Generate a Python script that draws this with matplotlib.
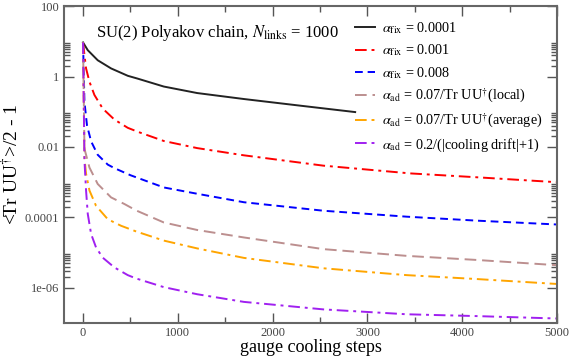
import matplotlib
matplotlib.use("Agg")
import matplotlib.pyplot as plt
from matplotlib.ticker import LogLocator, FuncFormatter, MultipleLocator

plt.rcParams['font.family'] = ['Liberation Serif', 'DejaVu Serif']
plt.rcParams['mathtext.fontset'] = 'stix'

# values (steps, <Tr UU^dag>/2 - 1)
steps_black = [0, 50, 155, 296, 472, 578, 852, 1204, 1697, 2300, 2870]
vals_black = [9.3, 5.6, 2.9, 1.7, 1.05, 0.87, 0.52, 0.34, 0.23, 0.148, 0.098]

steps_red = [0, 15, 32, 68, 120, 208, 331, 472, 578, 852, 1204, 1697, 2535, 3450, 4155, 5000]
vals_red = [9.3, 4.1, 1.7, 0.71, 0.30, 0.123, 0.060, 0.035, 0.027, 0.0148, 0.0093, 0.0058,
            0.00295, 0.00178, 0.00138, 0.00100]

steps_blue = [0, 15, 42, 85, 155, 261, 331, 500, 852, 1204, 1697, 2535, 3415, 4155, 5000]
vals_blue = [9.3, 0.19, 0.041, 0.0145, 0.0060, 0.00316, 0.00251, 0.00158, 0.00071, 0.00047,
             0.00027, 0.000155, 0.000105, 8.1e-5, 6.3e-5]

steps_brown = [0, 15, 68, 155, 296, 437, 560, 852, 1204, 1697, 2535, 3415, 4155, 5000]
vals_brown = [9.3, 0.0089, 0.0026, 0.00089, 0.00037, 0.00024, 0.000158, 7.2e-5, 4.4e-5, 2.7e-5,
              1.26e-5, 8.1e-6, 6.2e-6, 4.4e-6]

steps_orange = [0, 15, 32, 68, 137, 261, 401, 560, 852, 1204, 1697, 2535, 3415, 4155, 5000]
vals_orange = [9.3, 0.005, 0.00174, 0.00058, 0.000214, 8.9e-5, 5.8e-5, 4.0e-5, 2.2e-5, 1.32e-5,
               7.1e-6, 3.6e-6, 2.3e-6, 1.78e-6, 1.29e-6]

steps_purple = [0, 15, 32, 50, 85, 137, 208, 331, 472, 560, 852, 1204, 1697, 2535, 3415, 4155, 5000]
vals_purple = [9.3, 0.0042, 0.00058, 0.000126, 3.4e-5, 1.41e-5, 7.2e-6, 3.8e-6, 2.3e-6, 1.85e-6,
               1.05e-6, 6.6e-7, 4.0e-7, 2.45e-7, 1.78e-7, 1.58e-7, 1.35e-7]

labels = [r'$\alpha_{\rm fix}$ = 0.0001',
          r'$\alpha_{\rm fix}$ = 0.001',
          r'$\alpha_{\rm fix}$ = 0.008',
          r'$\alpha_{\rm ad}$ = 0.07/Tr UU$^{\dagger}$(local)',
          r'$\alpha_{\rm ad}$ = 0.07/Tr UU$^{\dagger}$(average)',
          r'$\alpha_{\rm ad}$ = 0.2/(|cooling drift|+1)']

ytick_text = {100: '100', 1: '1', 0.01: '0.01', 1e-4: '0.0001', 1e-6: '1e-06'}

fig = plt.figure(figsize=(5.72, 3.59), dpi=100)
ax = fig.add_axes([0.112, 0.100, 0.862, 0.883])

lw = 1.4
dashdot = (6, 2.5, 1.5, 2.5)
ax.plot(steps_black, vals_black, color='#222222', lw=lw, label=labels[0])
ax.plot(steps_red, vals_red, color='red', lw=lw, dashes=dashdot, label=labels[1])
ax.plot(steps_blue, vals_blue, color='blue', lw=lw, dashes=(4, 2.5), label=labels[2])
ax.plot(steps_brown, vals_brown, color='#bc8f8f', lw=lw, dashes=(6, 3), label=labels[3])
ax.plot(steps_orange, vals_orange, color='orange', lw=lw, dashes=dashdot, label=labels[4])
ax.plot(steps_purple, vals_purple, color='#a020f0', lw=lw, dashes=dashdot, label=labels[5])

ax.set_yscale('log')
ax.set_xlim(-200, 5000)
ax.set_ylim(1e-7, 100)

ax.yaxis.set_major_locator(LogLocator(base=100, numticks=10))
ax.yaxis.set_minor_locator(LogLocator(base=100, subs=[2, 3, 4, 5, 6, 7, 8, 9], numticks=10))
ax.yaxis.set_major_formatter(FuncFormatter(lambda v, p: ytick_text.get(round(v, 10), '')))
ax.xaxis.set_major_locator(MultipleLocator(1000))
ax.xaxis.set_minor_locator(MultipleLocator(500))

ax.tick_params(which='both', direction='in', top=True, right=True, colors='#555555',
               labelsize=9, labelcolor='#444444')
ax.tick_params(which='major', length=7, width=1)
ax.tick_params(which='minor', length=4, width=1)
ax.tick_params(axis='x', pad=3)
for s in ax.spines.values():
    s.set_color('#666666')
    s.set_linewidth(1.5)

ax.set_xlabel('gauge cooling steps', fontsize=13, labelpad=0)
ax.set_ylabel(r'<Tr UU$^{\dagger}$>/2 - 1', fontsize=14, labelpad=2)

ax.text(0.065, 0.915, r'SU(2) Polyakov chain, $N_{\rm links}$ = 1000', transform=ax.transAxes,
        fontsize=12, va='center')

ax.legend(loc='upper right', frameon=False, fontsize=10.3,
          handlelength=1.4, handletextpad=0.5, labelspacing=0.45, borderaxespad=0.6)

fig.savefig('out.png', dpi=100)
